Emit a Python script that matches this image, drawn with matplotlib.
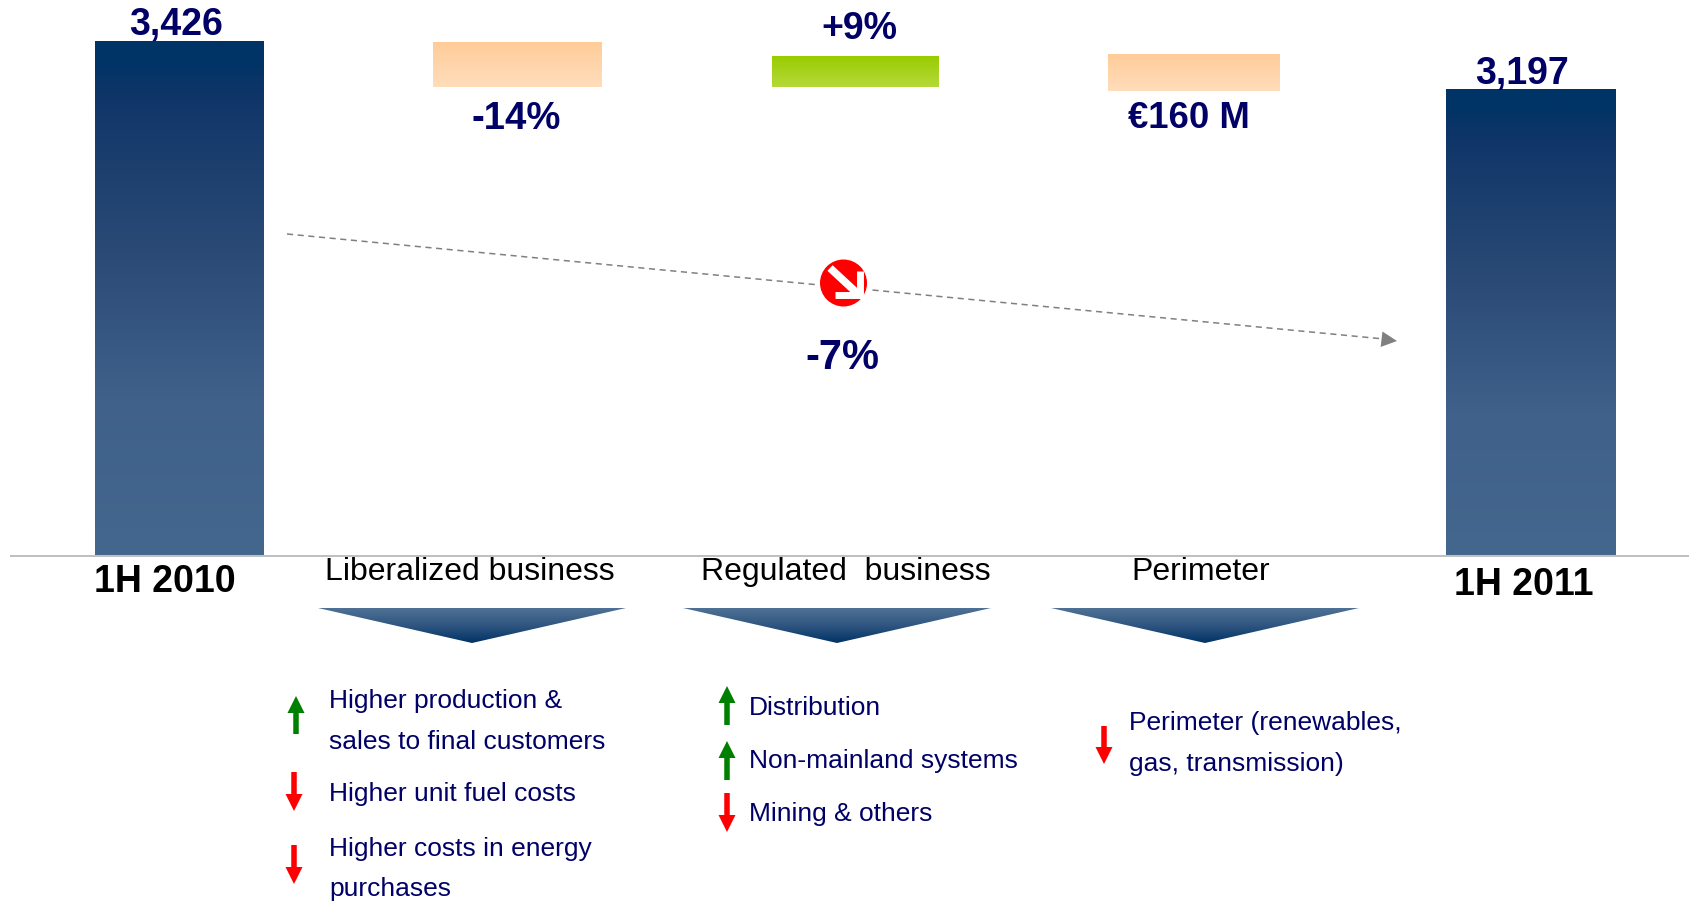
import numpy as np
import matplotlib.pyplot as plt
from matplotlib.colors import LinearSegmentedColormap
from matplotlib.patches import Circle, Polygon

# Data
periods = ['1H 2010', '1H 2011']
totals = [3426, 3197]
total_labels = ['3,426', '3,197']
drivers = ['Liberalized business', 'Regulated  business', 'Perimeter']
delta_high = [3421, 3358, 3364]
delta_low = [3211, 3211, 3192]
delta_labels = ['-14%', '+9%', '€160 M']
delta_up = [False, True, False]
trend_label = '-7%'
liberalized_notes = ['Higher production &', 'sales to final customers', 'Higher unit fuel costs',
                     'Higher costs in energy', 'purchases']
regulated_notes = ['Distribution', 'Non-mainland systems', 'Mining & others']
perimeter_notes = ['Perimeter (renewables,', 'gas, transmission)']

W, H = 1690, 901
NAVY = '#000066'
plt.rcParams['font.family'] = ['Liberation Sans', 'DejaVu Sans']

bar_cmap = LinearSegmentedColormap.from_list('bar', [(0, '#003366'), (0.035, '#003366'), (0.1, '#0F3568'),
                                                     (0.4, '#2A4A75'), (0.7, '#3F618A'), (1, '#44678E')])
tri_cmap = LinearSegmentedColormap.from_list('tri', [(0, '#4F7196'), (0.5, '#2F5580'), (1, '#003366')])
peach_cmap = LinearSegmentedColormap.from_list('peach', ['#FFCC99', '#FFDDBB'])
green_cmap = LinearSegmentedColormap.from_list('green', ['#99CC00', '#B5D93A'])
ramp = np.linspace(0, 1, 256).reshape(-1, 1)

fig = plt.figure(figsize=(W / 100, H / 100), dpi=100)

# bars live on a value axis that stops at the baseline, truncated base
baseline_px = 555
top_px = 41.7
px_per_unit = 48 / 229
base_value = totals[0] - (baseline_px - top_px) / px_per_unit
top_value = totals[0] + top_px / px_per_unit
ax = fig.add_axes([0, 1 - baseline_px / H, 1, baseline_px / H])
ax.axis('off')


def gradient_bar(x0, x1, y0, y1, cmap):
    ax.imshow(ramp, cmap=cmap, extent=[x0, x1, y0, y1], origin='upper', aspect='auto', zorder=2)


gradient_bar(95, 264, base_value, totals[0], bar_cmap)
gradient_bar(1446, 1616, base_value, totals[1], bar_cmap)

delta_x = [(433, 602), (772, 939), (1108, 1280)]
for (x0, x1), low, high, up in zip(delta_x, delta_low, delta_high, delta_up):
    gradient_bar(x0, x1, low, high, green_cmap if up else peach_cmap)
ax.set_xlim(0, W)
ax.set_ylim(base_value, top_value)

# overlay in pixel coordinates for text and shapes
ov = fig.add_axes([0, 0, 1, 1])
ov.axis('off')
ov.patch.set_alpha(0)

ov.plot([11, W], [556, 556], color='#BFBFBF', lw=1.4, zorder=1)

for label, x, y in zip(total_labels, [176, 1522], [25, 74]):
    ov.text(x, y, label, color=NAVY, fontsize=27, fontweight='bold', ha='center', va='center')
for label, x, y, size in zip(delta_labels, [516, 859, 1189], [119, 29, 119], [27.5, 27, 26.3]):
    ov.text(x, y, label, color=NAVY, fontsize=size, fontweight='bold', ha='center', va='center')
ov.text(842, 358, trend_label, color=NAVY, fontsize=30, fontweight='bold', ha='center', va='center')

for label, x, y in zip(periods, [165, 1524], [582, 585]):
    ov.text(x, y, label, color='black', fontsize=27, fontweight='bold', ha='center', va='center')
for label, x in zip(drivers, [470, 846, 1201]):
    ov.text(x, 572, label, color='black', fontsize=23, ha='center', va='center')

# funnel triangles
for x0, tip, x1 in [(318, 472, 626), (683, 837, 991), (1051, 1205, 1359)]:
    im = ov.imshow(ramp, cmap=tri_cmap, extent=[x0, x1, 643, 608], origin='upper', aspect='auto', zorder=2)
    tri = Polygon([(x0, 608), (x1, 608), (tip, 643)], closed=True, transform=ov.transData,
                  fc='none', ec='none')
    ov.add_patch(tri)
    im.set_clip_path(tri)

# trend line and badge
ov.plot([287, 1384], [234, 339], color='#808080', lw=1.1, ls=(0, (4, 3)), zorder=1)
ov.annotate('', xy=(1397, 341), xytext=(1375, 338.5),
            arrowprops=dict(arrowstyle='-|>', color='#808080', mutation_scale=28, lw=0, shrinkA=0, shrinkB=0))
ov.add_patch(Circle((843.5, 283), 26, fc='white', ec='none', zorder=3))
ov.add_patch(Circle((843.5, 283), 23.5, fc='#FF0000', ec='none', zorder=4))
ov.plot([830, 858], [268, 294], color='white', lw=5.5, solid_capstyle='butt', zorder=5)
ov.plot([860, 860, 835], [271, 295, 295], color='white', lw=5, solid_joinstyle='miter',
        solid_capstyle='butt', zorder=5)


def note_arrow(x, y0, y1, color):
    ov.arrow(x, y0, 0, y1 - y0, width=5.5, head_width=17, head_length=17, length_includes_head=True,
             fc=color, ec='none', zorder=3)


GREEN = '#008000'
RED = '#FF0000'
for label, y in zip(liberalized_notes, [701, 742, 794, 849, 889]):
    ov.text(329, y, label, color=NAVY, fontsize=19, ha='left', va='center')
note_arrow(296, 734, 696, GREEN)
note_arrow(294, 772, 811, RED)
note_arrow(294, 845, 884, RED)

for label, y in zip(regulated_notes, [708, 761, 814]):
    ov.text(749, y, label, color=NAVY, fontsize=19, ha='left', va='center')
note_arrow(727, 725, 686, GREEN)
note_arrow(727, 780, 741, GREEN)
note_arrow(727, 793, 832, RED)

for label, y in zip(perimeter_notes, [723, 764]):
    ov.text(1129, y, label, color=NAVY, fontsize=19, ha='left', va='center')
note_arrow(1104, 726, 764, RED)

ov.set_xlim(0, W)
ov.set_ylim(H, 0)

fig.savefig('out.png', dpi=100)
